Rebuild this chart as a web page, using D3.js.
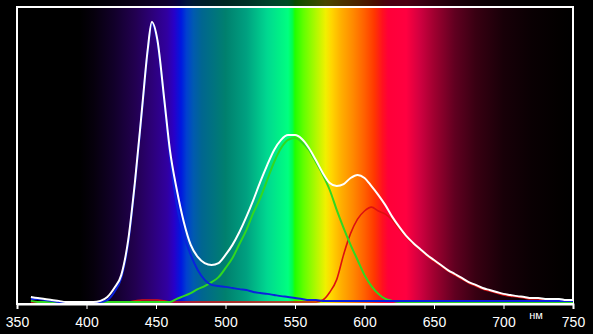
<!DOCTYPE html>
<html>
<head>
<meta charset="utf-8">
<script src="https://cdn.jsdelivr.net/npm/d3@7/dist/d3.min.js"></script>
<style>
  html, body { margin: 0; padding: 0; background: #000; }
  svg { display: block; }
</style>
</head>
<body>
<script>
var W = 593, H = 334;

// wavelengths (nm) and relative intensity (%) of each channel
var wl = [360,365,370,375,380,385,390,395,400,405,410,415,420,425,430,435,440,444,447,451,456,460,465,470,475,480,485,490,495,500,505,510,515,520,525,530,535,540,545,550,555,560,565,570,575,580,585,590,595,600,605,610,615,620,625,630,635,640,645,650,655,660,665,670,675,680,685,690,695,700,705,710,715,720,725,730,735,740,745,750];

var white = [1.8,1.4,1.1,0.7,0.4,0,0,0,0,0,0.4,1.8,5.0,9.6,22.1,43.6,69.3,90.0,100,93.6,72.1,54.3,40.0,28.6,20.4,16.1,13.9,13.2,13.9,16.8,20.4,25.0,30.4,36.4,42.9,48.9,54.3,57.9,59.6,59.6,58.2,55.0,50.7,46.1,42.5,41.4,42.1,44.3,45.4,44.3,41.4,38.2,34.6,30.4,26.8,23.6,21.1,18.9,16.8,15.0,13.2,11.4,10.0,8.6,7.1,6.1,5.0,4.3,3.6,2.9,2.5,2.1,1.8,1.4,1.4,1.1,1.1,1.1,0.7,0.7];

var blue = [1.1,1.1,0.7,0.4,0,0,0,0,0,0,0,0.7,3.6,8.6,21.1,42.9,68.6,89.3,99.3,92.9,71.4,52.5,34.6,23.9,16.8,11.4,7.9,6.1,5.7,5.4,5.0,4.6,4.3,3.6,3.2,2.9,2.5,2.1,1.8,1.4,1.1,0.7,0.7,0.4,0.4,0.4,0.4,0.4,0.4,0.4,0.4,0.4,0.4,0.4,0.4,0.4,0.4,0.4,0.4,0.4,0.4,0.4,0.4,0.4,0.4,0.4,0.4,0.4,0.4,0.4,0.4,0.4,0.4,0.4,0.4,0.4,0.4,0.4,0.4,0.4];

var green = [0.4,0,0,0,0,0,0,0,0,0,0,0,0,0,0,0,0,0,0,0,0,0,1.1,2.1,3.2,4.6,5.7,7.1,8.9,12.1,15.7,20.7,25.7,31.8,37.1,43.6,50.0,55.0,57.9,58.6,57.1,54.3,50.0,45.4,40.0,32.9,26.4,20.4,15.0,9.6,5.7,2.9,1.1,0.4,0,0,0,0,0,0,0,0,0,0,0,0,0,0,0,0,0,0,0,0,0,0,0,0,0,0];

var red = [0,0,0,0,0,0,0,0,0,0,0,0,0,0,0,0.4,0.7,0.7,0.7,0.7,0.4,0,0,0,0,0,0,0,0,0,0,0,0,0,0,0,0,0,0,0,0,0,0,0.7,3.5,8.0,17.0,24.5,29.6,32.5,33.9,32.5,31.4,29.3,26.1,23.2,20.7,18.6,16.4,14.6,12.9,11.1,9.6,8.2,6.8,5.7,4.6,3.9,3.2,2.5,2.1,1.8,1.4,1.1,1.1,0.7,0.7,0.7,0.4,0.4];

// x axis ticks
var ticks = [350,400,450,500,550,600,650,700,750];
var unit = "нм";

// background spectrum colour stops
var specWl = [350,395,405,420,435,447,458,463,468,472,477,483,500,515,530,545,548,550,556,565,572,576,583,592,600,607,613,617,630,640,650,665,680,700,720,740,750];
var specCol = ["#000000","#000000","#06000c","#12002a","#220050","#2c0078","#3100a0","#2800c8","#0018e0","#0040d0","#005ab0","#006690","#00806e","#00a080","#00d890","#00ff80","#00ff50","#20ff00","#60ff00","#b0f800","#f0f000","#ffd800","#ffb000","#ff8800","#ff6000","#ff3800","#ff1020","#ff0038","#ff0040","#d00040","#a00030","#600020","#380012","#180008","#0a0003","#030000","#000000"];

var x = d3.scaleLinear().domain([350, 750]).range([17, 573]);
var y = d3.scaleLinear().domain([0, 100]).range([302, 22]);

var svg = d3.select('body').append('svg')
  .attr('width', W)
  .attr('height', H);

svg.append('rect').attr('width', W).attr('height', H).attr('fill', '#000');

var grad = svg.append('defs').append('linearGradient')
  .attr('id', 'spec')
  .attr('gradientUnits', 'userSpaceOnUse')
  .attr('x1', x(350)).attr('x2', x(750))
  .attr('y1', 0).attr('y2', 0);

grad.selectAll('stop')
  .data(specWl)
  .enter().append('stop')
  .attr('offset', function(d) { return (d - 350) / 400; })
  .attr('stop-color', function(d, i) { return specCol[i]; });

svg.append('rect')
  .attr('x', x(350)).attr('y', 0)
  .attr('width', x(750) - x(350)).attr('height', y(0) + 2)
  .attr('fill', 'url(#spec)');

// darker strip above the frame
svg.append('rect')
  .attr('x', x(350)).attr('y', 0)
  .attr('width', x(750) - x(350)).attr('height', 7)
  .attr('fill', '#000').attr('opacity', 0.7);

// frame
svg.append('rect')
  .attr('x', x(350)).attr('y', 7)
  .attr('width', x(750) - x(350)).attr('height', 297)
  .attr('fill', 'none')
  .attr('stroke', '#fff')
  .attr('stroke-width', 2);

var line = function(vals) {
  return d3.line()
    .x(function(d, i) { return x(wl[i]); })
    .y(function(d) { return y(d); })
    .curve(d3.curveMonotoneX)(vals);
};

var series = [
  { v: red, c: '#dd1010', w: 1.6 },
  { v: green, c: '#30d820', w: 2 },
  { v: blue, c: '#0a22dd', w: 2 },
  { v: white, c: '#ffffff', w: 2 }
];

svg.selectAll('path.s')
  .data(series)
  .enter().append('path')
  .attr('class', 's')
  .attr('d', function(d) { return line(d.v); })
  .attr('fill', 'none')
  .attr('stroke', function(d) { return d.c; })
  .attr('stroke-width', function(d) { return d.w; })
  .attr('stroke-linejoin', 'round');

// bottom axis
var axis = d3.axisBottom(x).tickValues(ticks).tickSize(5).tickPadding(8);
var gx = svg.append('g')
  .attr('transform', 'translate(0,' + 304 + ')')
  .call(axis);

gx.select('.domain').attr('stroke', '#fff').attr('stroke-width', 2);
gx.selectAll('.tick line').attr('stroke', '#fff').attr('stroke-width', 1);
gx.selectAll('.tick text')
  .attr('fill', '#fff')
  .style('font-family', '"Liberation Sans Narrow", "Arial Narrow", "Liberation Sans", Arial, sans-serif')
  .style('font-size', '14px');

svg.append('text')
  .attr('x', 536).attr('y', 319)
  .attr('text-anchor', 'middle')
  .attr('fill', '#fff')
  .style('font-family', '"Liberation Sans", Arial, sans-serif')
  .style('font-size', '11px')
  .text(unit);
</script>
</body>
</html>
